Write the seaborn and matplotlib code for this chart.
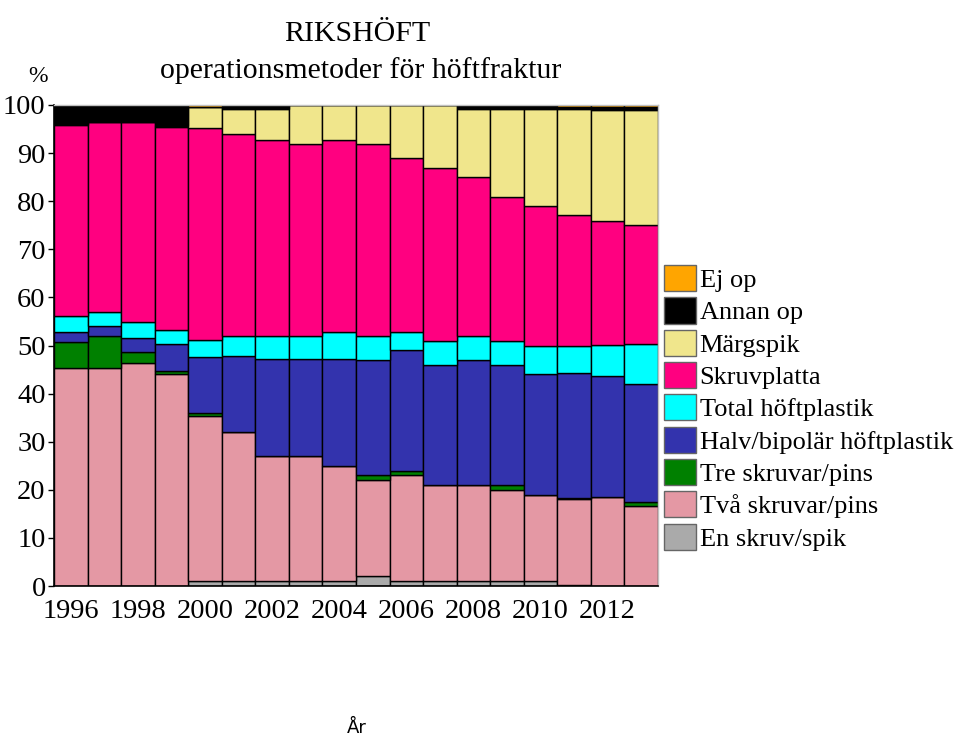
import matplotlib
matplotlib.use('Agg')
import matplotlib.pyplot as plt
from matplotlib.patches import Patch
import pandas as pd
import seaborn as sns

years = list(range(1996, 2014))

# stacking order: top first, bottom last
methods = ['Ej op', 'Annan op', 'Märgspik', 'Skruvplatta', 'Total höftplastik',
           'Halv/bipolär höftplastik', 'Tre skruvar/pins', 'Två skruvar/pins', 'En skruv/spik']
colors = ['#FFA500', '#000000', '#F0E68C', '#FF0080', '#00FFFF',
          '#3333AD', '#008000', '#E498A4', '#AAAAAA']

ej_op = [0.3, 0.3, 0.3, 0.3, 0.5, 0, 0, 0, 0, 0, 0, 0, 0, 0, 0, 0.4, 0.4, 0.4]
annan_op = [3.6, 3.2, 3.2, 4.1, 0, 1.0, 1.0, 0, 0, 0, 0, 0, 1.0, 1.0, 1.0, 0.4, 0.7, 0.7]
margspik = [0.3, 0, 0, 0.2, 4.3, 5.2, 6.3, 8.2, 7.3, 8.2, 11.2, 13.2, 14.1, 18.2, 20.2, 22.1, 23.1, 23.8]
skruvplatta = [39.7, 39.5, 41.7, 42.2, 44.2, 42.0, 40.9, 40.0, 39.9, 40.0, 36.0, 35.9, 33.1, 29.9, 29.0, 27.1, 25.6, 24.7]
total_hp = [3.2, 2.9, 3.3, 2.9, 3.5, 4.0, 4.8, 4.8, 5.8, 5.0, 3.9, 5.0, 5.0, 5.0, 5.9, 5.8, 6.5, 8.4]
halv_hp = [2.2, 2.1, 2.8, 5.7, 11.6, 15.9, 20.1, 20.1, 22.1, 23.9, 25.0, 25.0, 25.9, 25.0, 25.0, 25.9, 25.2, 24.5]
tre_skruvar = [5.4, 6.6, 2.3, 0.5, 0.7, 0, 0, 0, 0, 1.0, 1.0, 0, 0, 1.0, 0, 0.2, 0, 0.8]
tva_skruvar = [45.3, 45.4, 46.4, 44.1, 34.3, 31.0, 26.0, 26.0, 24.0, 20.0, 22.0, 20.0, 20.0, 19.0, 18.0, 17.9, 18.5, 16.7]
en_skruv = [0, 0, 0, 0, 1.0, 1.0, 1.0, 1.0, 1.0, 2.0, 1.0, 1.0, 1.0, 1.0, 1.0, 0.2, 0, 0]

series = [ej_op, annan_op, margspik, skruvplatta, total_hp, halv_hp, tre_skruvar, tva_skruvar, en_skruv]

rows = []
for name, values in zip(methods, series):
    for year, value in zip(years, values):
        rows.append({'year': year, 'metod': name, 'pct': value})
df = pd.DataFrame(rows)

sns.set_style('white')
plt.rcParams['font.family'] = ['Liberation Serif', 'DejaVu Serif']
plt.rcParams['text.color'] = 'black'
plt.rcParams['xtick.color'] = 'black'
plt.rcParams['ytick.color'] = 'black'

fig = plt.figure(figsize=(9.58, 7.38), dpi=100)
ax = fig.add_axes([54 / 958, 152 / 738, 604 / 958, 481 / 738])

sns.histplot(data=df, x='year', weights='pct', hue='metod', hue_order=methods,
             palette=colors, multiple='stack', discrete=True, shrink=1,
             alpha=1, edgecolor='black', linewidth=1, legend=False, ax=ax)

ax.set_xlim(1995.5, 2013.5)
ax.set_ylim(0, 100)
ax.set_xticks(years[::2])
ax.set_xticklabels([str(y) for y in years[::2]])
ax.set_yticks(range(0, 101, 10))
ax.tick_params(axis='x', length=0, pad=9, labelsize=20.5)
ax.tick_params(axis='y', length=4, width=1, pad=2, labelsize=20.5, left=True, direction='out')
ax.set_xlabel('')
ax.set_ylabel('')
for side in ['left', 'bottom']:
    ax.spines[side].set_color('black')
    ax.spines[side].set_linewidth(1.2)
for side in ['top', 'right']:
    ax.spines[side].set_color('#c0c0c0')
    ax.spines[side].set_linewidth(1)

fig.text(357 / 958, 1 - 34 / 738, 'RIKSHÖFT', ha='center', va='center', fontsize=21.5)
fig.text(361 / 958, 1 - 71 / 738, 'operationsmetoder för höftfraktur', ha='center', va='center', fontsize=21.5)
fig.text(38 / 958, 1 - 76 / 738, '%', ha='center', va='center', fontsize=17)
fig.text(357 / 958, 1 - 733 / 738, 'År', ha='center', va='baseline', fontsize=13, family='DejaVu Sans')

handles = [Patch(facecolor=c, edgecolor='#666666', linewidth=1) for c in colors]
fig.legend(handles, methods, loc='upper left', bbox_to_anchor=(664 / 958, 1 - 265 / 738),
           frameon=False, fontsize=19, handlelength=1.2, handleheight=1.15,
           handletextpad=0.15, labelspacing=0.2, borderpad=0, borderaxespad=0)

plt.savefig('out.png', dpi=100)
